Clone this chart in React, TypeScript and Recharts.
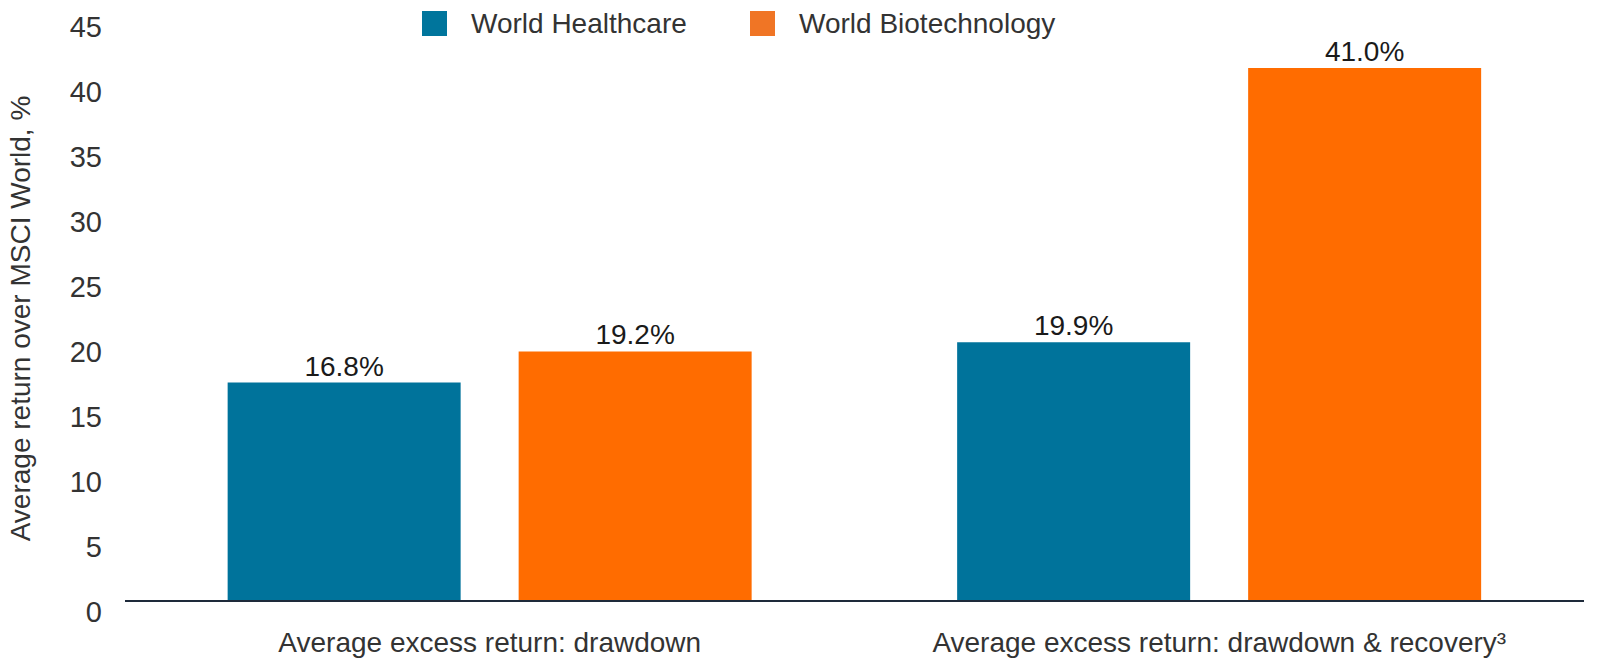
import { BarChart, Bar, XAxis, YAxis, Legend, LabelList } from "recharts";

const categories = [
  "Average excess return: drawdown",
  "Average excess return: drawdown & recovery³",
];
const healthcare = [16.8, 19.9];
const biotech = [19.2, 41.0];
const yTicks = [0, 5, 10, 15, 20, 25, 30, 35, 40, 45];

const TEAL = "#00739b";
const ORANGE = "#ff6c00";
const FONT = "'Liberation Sans', Arial, Helvetica, sans-serif";

const data = categories.map((name, i) => ({
  name,
  healthcare: healthcare[i],
  biotech: biotech[i],
}));

const YTick = ({ x, y, payload }: any) => (
  <text
    x={x}
    y={y + 11}
    dy="0.36em"
    textAnchor="end"
    fontSize={29}
    fontFamily={FONT}
    fill="#333"
  >
    {payload.value}
  </text>
);

const XTick = ({ x, y, payload }: any) => (
  <text
    x={x}
    y={y + 41}
    dy="0.36em"
    textAnchor="middle"
    fontSize={28}
    fontFamily={FONT}
    fill="#333"
  >
    {payload.value}
  </text>
);

const ValueLabel = ({ x, y, width, value }: any) => (
  <text
    x={x + width / 2}
    y={y - 7}
    textAnchor="middle"
    fontSize={28}
    fontFamily={FONT}
    fill="#1a1a1a"
  >
    {`${Number(value).toFixed(1)}%`}
  </text>
);

const YLabel = ({ viewBox }: any) => {
  const cx = viewBox.x + 20;
  const cy = viewBox.y + viewBox.height / 2 + 10;
  return (
    <text
      x={cx}
      y={cy}
      dy="0.36em"
      transform={`rotate(-90 ${cx} ${cy})`}
      textAnchor="middle"
      fontSize={28}
      fontFamily={FONT}
      fill="#333"
    >
      Average return over MSCI World, %
    </text>
  );
};

const legendItems = [
  { label: "World Healthcare", color: "#00759c", left: 422 },
  { label: "World Biotechnology", color: "#f07525", left: 750 },
];

const ChartLegend = () => (
  <div style={{ position: "relative", height: 48, fontFamily: FONT }}>
    {legendItems.map((item) => (
      <div
        key={item.label}
        style={{
          position: "absolute",
          left: item.left,
          top: 11,
          display: "flex",
          alignItems: "center",
          whiteSpace: "nowrap",
        }}
      >
        <span
          style={{
            display: "inline-block",
            width: 25,
            height: 25,
            background: item.color,
            marginRight: 24,
          }}
        />
        <span style={{ fontSize: 28, color: "#333", lineHeight: "25px" }}>
          {item.label}
        </span>
      </div>
    ))}
  </div>
);

export default function App() {
  return (
    <div style={{ position: "absolute", left: 0, top: 0, background: "#fff" }}>
      <BarChart
        width={1599}
        height={665}
        data={data}
        margin={{ top: 16, right: 15, left: 0, bottom: 0 }}
        barCategoryGap="14.07%"
        barGap={58}
      >
        <XAxis
          dataKey="name"
          height={64}
          tickLine={false}
          tickSize={0}
          tickMargin={0}
          axisLine={{ stroke: "#1e2a3a", strokeWidth: 2 }}
          tick={<XTick />}
          interval={0}
        />
        <YAxis
          width={125}
          domain={[0, 45]}
          ticks={yTicks}
          axisLine={false}
          tickLine={false}
          tickSize={0}
          tickMargin={23}
          tick={<YTick />}
          label={<YLabel />}
        />
        <Legend
          layout="horizontal"
          verticalAlign="middle"
          align="center"
          wrapperStyle={{ top: 0, left: 0, width: 1599 }}
          content={<ChartLegend />}
        />
        <Bar dataKey="healthcare" name="World Healthcare" fill={TEAL} isAnimationActive={false}>
          <LabelList dataKey="healthcare" content={<ValueLabel />} />
        </Bar>
        <Bar dataKey="biotech" name="World Biotechnology" fill={ORANGE} isAnimationActive={false}>
          <LabelList dataKey="biotech" content={<ValueLabel />} />
        </Bar>
      </BarChart>
    </div>
  );
}
